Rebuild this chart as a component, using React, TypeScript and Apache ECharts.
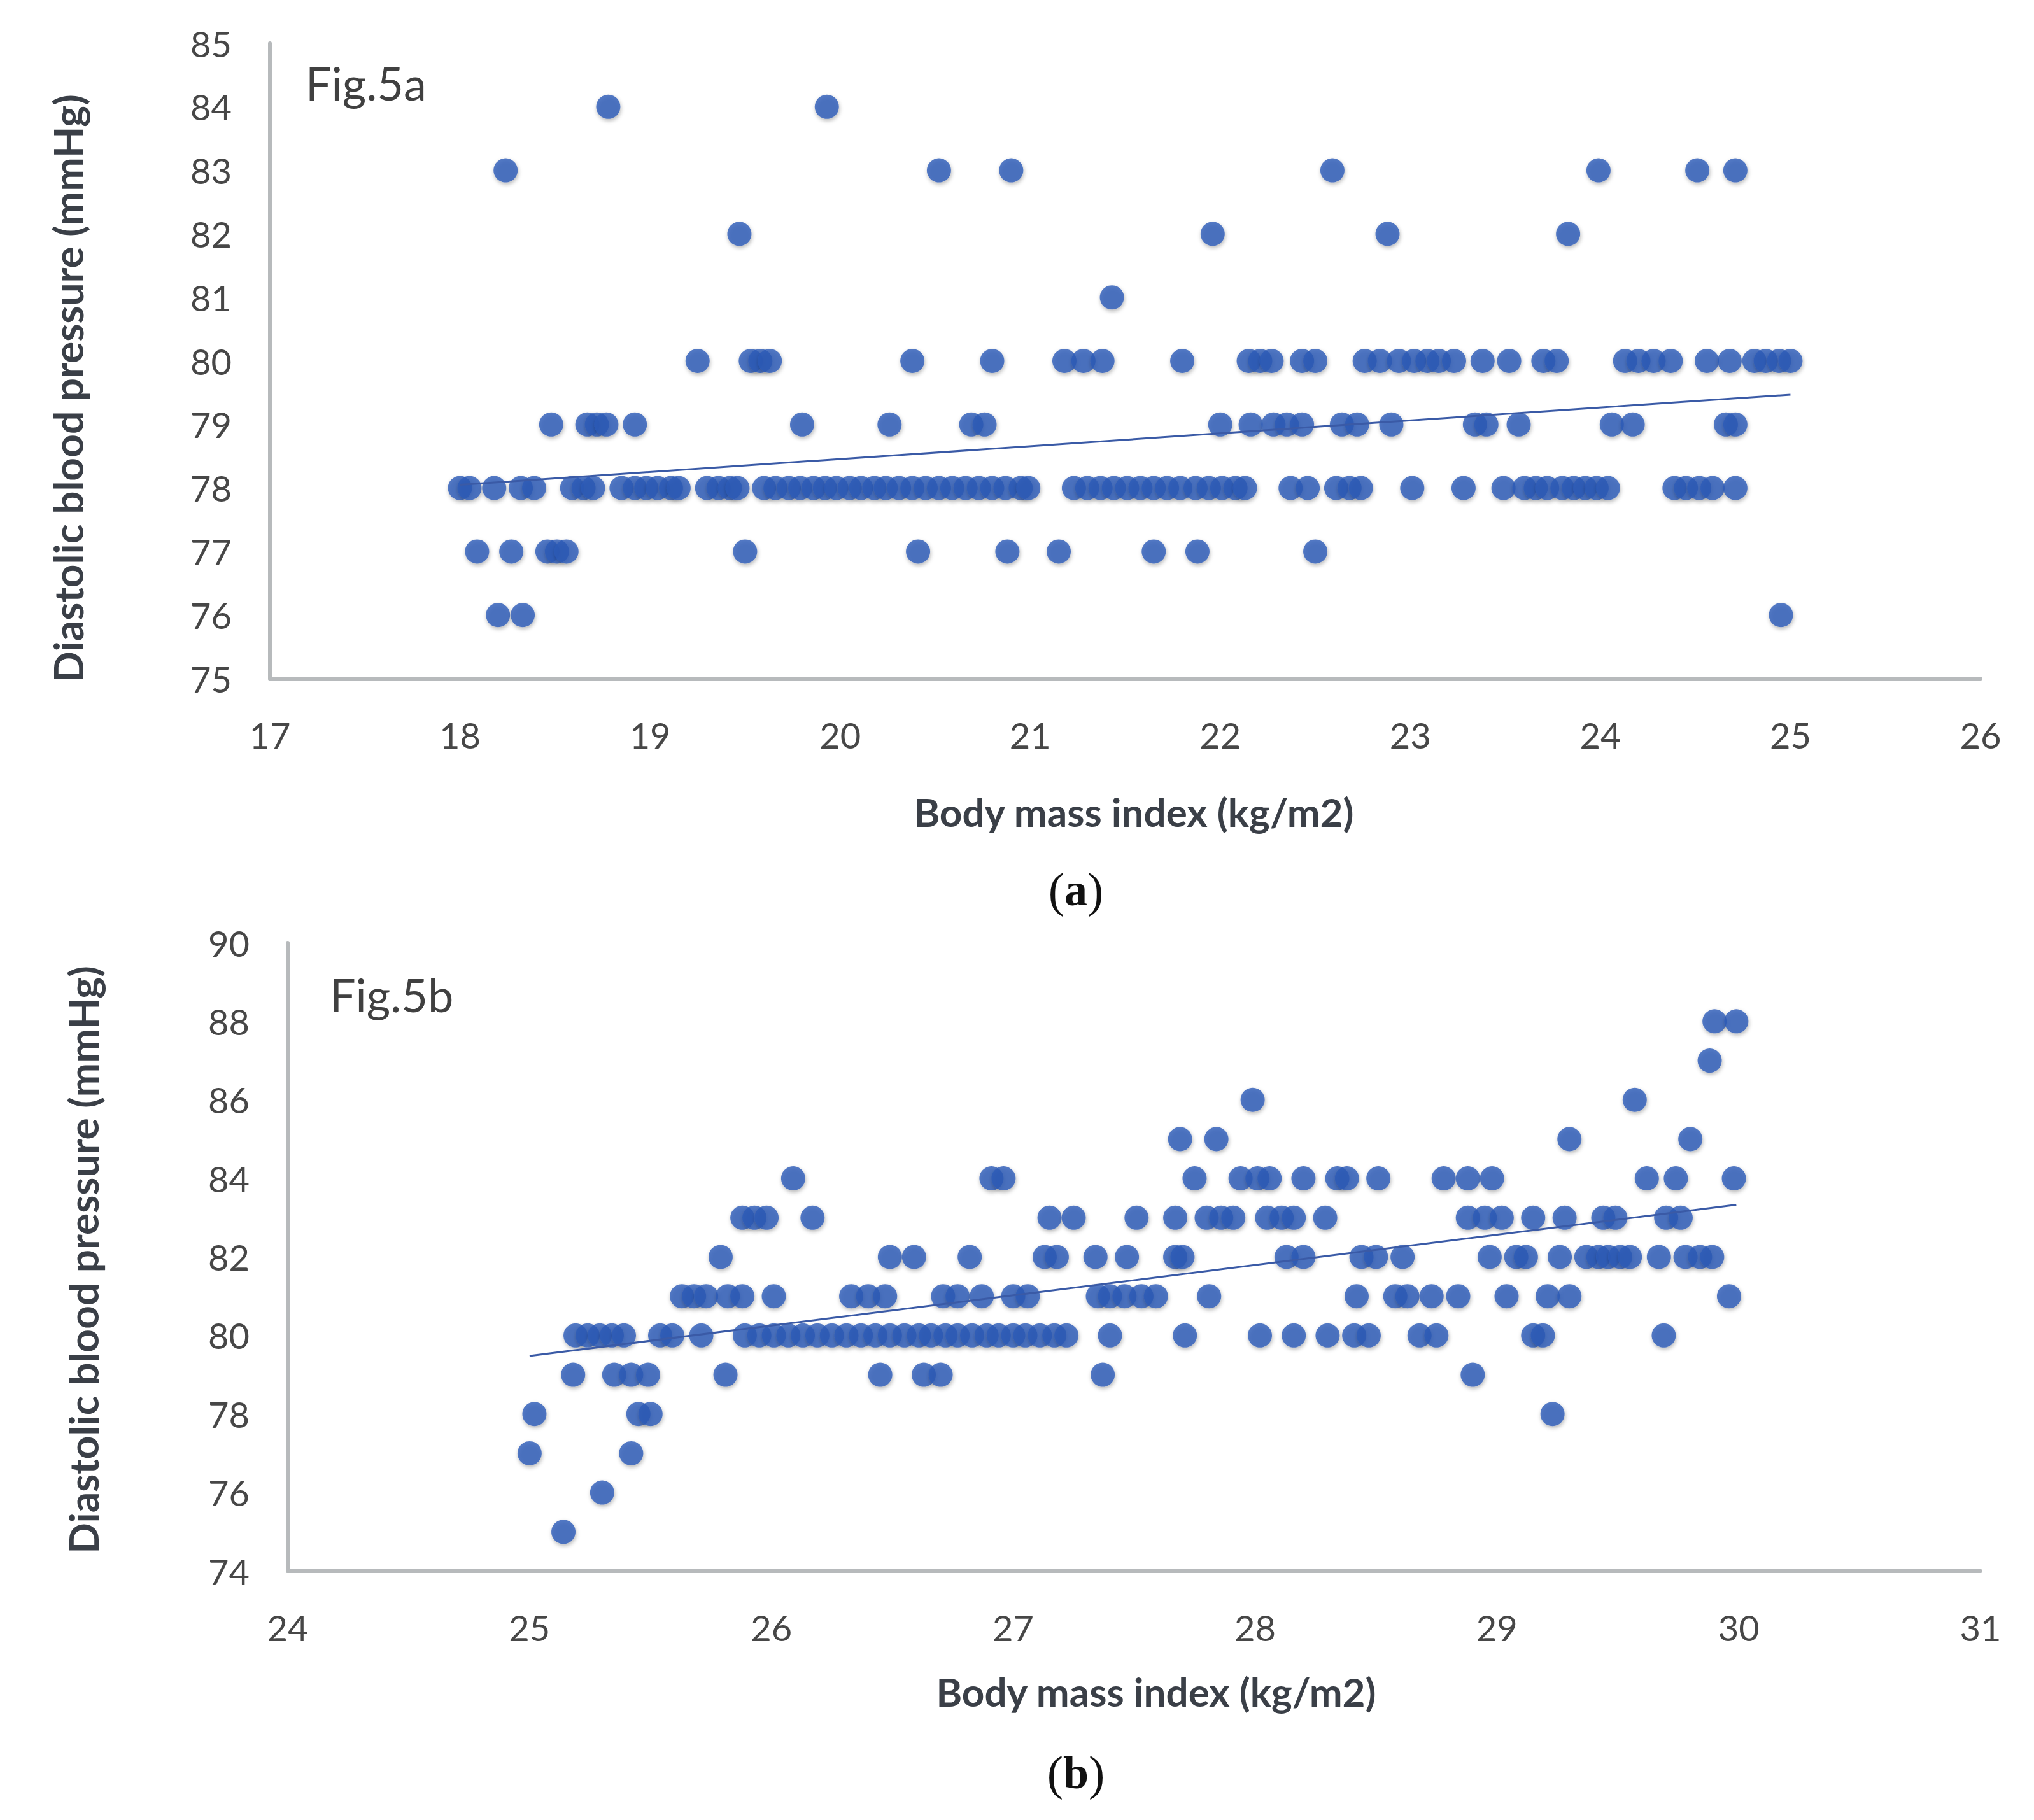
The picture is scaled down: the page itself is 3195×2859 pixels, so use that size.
import React, { useEffect, useRef } from "react";
import * as echarts from "echarts";

// ---------- Fig.5a : BMI 18–25 (x) vs diastolic BP (y), grouped by DBP row ----------
const a84 = [18.78, 19.93];
const a83 = [18.24, 20.52, 20.9, 22.59, 23.99, 24.51, 24.71];
const a82 = [19.47, 21.96, 22.88, 23.83];
const a81 = [21.43];
const a80 = [19.25, 19.53, 19.58, 19.63, 20.38, 20.8, 21.18, 21.28, 21.38, 21.8, 22.15, 22.21, 22.27, 22.43, 22.5, 22.76, 22.84, 22.94, 23.02, 23.09, 23.15, 23.23, 23.38, 23.52, 23.7, 23.77, 24.13, 24.2, 24.28, 24.37, 24.56, 24.68, 24.81, 24.87, 24.94, 25.0];
const a79 = [18.48, 18.67, 18.72, 18.77, 18.92, 19.8, 20.26, 20.69, 20.76, 22.0, 22.16, 22.28, 22.35, 22.43, 22.64, 22.72, 22.9, 23.34, 23.4, 23.57, 24.06, 24.17, 24.66, 24.71];
const a78 = [18.0, 18.05, 18.18, 18.32, 18.39, 18.59, 18.65, 18.7, 18.85, 18.92, 18.98, 19.04, 19.11, 19.15, 19.3, 19.36, 19.42, 19.46, 19.6, 19.66, 19.73, 19.79, 19.86, 19.92, 19.98, 20.05, 20.11, 20.18, 20.24, 20.31, 20.38, 20.45, 20.52, 20.59, 20.66, 20.73, 20.8, 20.87, 20.95, 20.99, 21.23, 21.3, 21.37, 21.44, 21.51, 21.58, 21.65, 21.72, 21.79, 21.87, 21.94, 22.01, 22.08, 22.13, 22.37, 22.46, 22.61, 22.68, 22.74, 23.01, 23.28, 23.49, 23.6, 23.66, 23.72, 23.8, 23.86, 23.92, 23.98, 24.04, 24.39, 24.45, 24.52, 24.59, 24.71];
const a77 = [18.09, 18.27, 18.46, 18.51, 18.56, 19.5, 20.41, 20.88, 21.15, 21.65, 21.88, 22.5];
const a76 = [18.2, 18.33, 24.95];
const trendA = [[18.0, 78.05], [25.0, 79.47]];

// ---------- Fig.5b : BMI 25–30 (x) vs diastolic BP (y) ----------
const b88 = [29.9, 29.99];
const b87 = [29.88];
const b86 = [27.99, 29.57];
const b85 = [27.69, 27.84, 29.3, 29.8];
const b84 = [26.09, 26.91, 26.96, 27.75, 27.94, 28.01, 28.06, 28.2, 28.34, 28.38, 28.51, 28.78, 28.88, 28.98, 29.62, 29.74, 29.98];
const b83 = [25.88, 25.93, 25.98, 26.17, 27.15, 27.25, 27.51, 27.67, 27.8, 27.86, 27.91, 28.05, 28.11, 28.16, 28.29, 28.88, 28.95, 29.02, 29.15, 29.28, 29.44, 29.49, 29.7, 29.76];
const b82 = [25.79, 26.49, 26.59, 26.82, 27.13, 27.18, 27.34, 27.47, 27.67, 27.7, 28.13, 28.2, 28.44, 28.5, 28.61, 28.97, 29.08, 29.12, 29.26, 29.37, 29.42, 29.46, 29.51, 29.55, 29.67, 29.78, 29.84, 29.89];
const b81 = [25.63, 25.68, 25.73, 25.82, 25.88, 26.01, 26.33, 26.4, 26.47, 26.71, 26.77, 26.87, 27.0, 27.06, 27.35, 27.4, 27.46, 27.53, 27.59, 27.81, 28.42, 28.58, 28.63, 28.73, 28.84, 29.04, 29.21, 29.3, 29.96];
const b80 = [25.19, 25.24, 25.29, 25.34, 25.39, 25.54, 25.59, 25.71, 25.89, 25.95, 26.01, 26.07, 26.13, 26.19, 26.25, 26.31, 26.37, 26.43, 26.49, 26.55, 26.61, 26.66, 26.72, 26.77, 26.83, 26.89, 26.94, 27.0, 27.05, 27.11, 27.17, 27.22, 27.4, 27.71, 28.02, 28.16, 28.3, 28.41, 28.47, 28.68, 28.75, 29.15, 29.19, 29.69];
const b79 = [25.18, 25.35, 25.42, 25.49, 25.81, 26.45, 26.63, 26.7, 27.37, 28.9];
const b78 = [25.02, 25.45, 25.5, 29.23];
const b77 = [25.0, 25.42];
const b76 = [25.3];
const b75 = [25.14];
const trendB = [[25.0, 79.48], [29.99, 83.33]];

// ---------- axes ----------
const axisA = { xMin: 17, xMax: 26, xStep: 1, yMin: 75, yMax: 85, yStep: 1 };
const axisB = { xMin: 24, xMax: 31, xStep: 1, yMin: 74, yMax: 90, yStep: 2 };

const xTitle = "Body mass index (kg/m2)";
const yTitle = "Diastolic blood pressure (mmHg)";
const figLabels = ["Fig.5a", "Fig.5b"];
const panelLabels = ["a", "b"];

const rowsA: [number, number[]][] = [[84, a84], [83, a83], [82, a82], [81, a81], [80, a80], [79, a79], [78, a78], [77, a77], [76, a76]];
const rowsB: [number, number[]][] = [[88, b88], [87, b87], [86, b86], [85, b85], [84, b84], [83, b83], [82, b82], [81, b81], [80, b80], [79, b79], [78, b78], [77, b77], [76, b76], [75, b75]];

const toPoints = (rows: [number, number[]][]) => rows.flatMap(([y, xs]) => xs.map((x) => [x, y]));

const DOT = "#2D5BB8";
const TREND = "#3A5AA6";
const AXIS = "#B7BABC";
const LABEL = "#474747";
const TITLE = "#3A3F47";
const FONT = "Lato";

function axisX(gridIndex: number, a: typeof axisA) {
  return {
    gridIndex, type: "value", min: a.xMin, max: a.xMax, interval: a.xStep,
    axisLine: { show: true, onZero: false, lineStyle: { color: AXIS, width: 6 } },
    axisTick: { show: false }, splitLine: { show: false },
    axisLabel: { fontFamily: FONT, fontSize: 56, color: LABEL, margin: 60 },
  };
}
function axisY(gridIndex: number, a: typeof axisA) {
  return {
    gridIndex, type: "value", min: a.yMin, max: a.yMax, interval: a.yStep,
    axisLine: { show: true, onZero: false, lineStyle: { color: AXIS, width: 6 } },
    axisTick: { show: false }, splitLine: { show: false },
    axisLabel: { fontFamily: FONT, fontSize: 56, color: LABEL, margin: 60 },
  };
}

const scatterStyle = {
  color: DOT,
  shadowBlur: 6,
  shadowColor: "rgba(0,0,0,0.35)",
  shadowOffsetX: 1,
  shadowOffsetY: 3,
};

export default function App() {
  const ref = useRef<HTMLDivElement>(null);
  useEffect(() => {
    if (!ref.current) return;
    const chart = echarts.init(ref.current, null, { renderer: "svg" });
    const xTitleStyle = { fill: TITLE, font: `bold 62px ${FONT}`, align: "center", verticalAlign: "middle" };
    const yTitleStyle = { fill: TITLE, font: `bold 64px ${FONT}`, align: "center", verticalAlign: "middle" };
    const panelRich = {
      p: { font: `76px "Liberation Serif"`, fill: "#111" },
      b: { font: `bold 72px "Liberation Serif"`, fill: "#111" },
    };
    chart.setOption({
      animation: false,
      backgroundColor: "#ffffff",
      grid: [
        { left: 424, top: 68, width: 2687, height: 998 },
        { left: 452, top: 1481, width: 2659, height: 987 },
      ],
      xAxis: [axisX(0, axisA), axisX(1, axisB)],
      yAxis: [axisY(0, axisA), axisY(1, axisB)],
      series: [
        { type: "scatter", xAxisIndex: 0, yAxisIndex: 0, symbolSize: 38, data: toPoints(rowsA), itemStyle: scatterStyle, z: 2 },
        { type: "line", xAxisIndex: 0, yAxisIndex: 0, data: trendA, symbol: "none", lineStyle: { color: TREND, width: 3 }, z: 3, silent: true },
        { type: "scatter", xAxisIndex: 1, yAxisIndex: 1, symbolSize: 38, data: toPoints(rowsB), itemStyle: scatterStyle, z: 2 },
        { type: "line", xAxisIndex: 1, yAxisIndex: 1, data: trendB, symbol: "none", lineStyle: { color: TREND, width: 3 }, z: 3, silent: true },
      ],
      graphic: [
        { type: "text", x: 480, y: 130, style: { text: figLabels[0], fill: "#404040", font: `72px ${FONT}`, align: "left", verticalAlign: "middle" } },
        { type: "text", x: 518, y: 1562, style: { text: figLabels[1], fill: "#404040", font: `72px ${FONT}`, align: "left", verticalAlign: "middle" } },
        { type: "text", x: 106, y: 610, rotation: Math.PI / 2, style: { text: yTitle, ...yTitleStyle } },
        { type: "text", x: 130, y: 1979, rotation: Math.PI / 2, style: { text: yTitle, ...yTitleStyle } },
        { type: "text", x: 1781, y: 1275, style: { text: xTitle, ...xTitleStyle } },
        { type: "text", x: 1816, y: 2657, style: { text: xTitle, ...xTitleStyle } },
        { type: "text", x: 1690, y: 1398, style: { text: `{p|(}{b|${panelLabels[0]}}{p|)}`, align: "center", verticalAlign: "middle", rich: panelRich } },
        { type: "text", x: 1690, y: 2785, style: { text: `{p|(}{b|${panelLabels[1]}}{p|)}`, align: "center", verticalAlign: "middle", rich: panelRich } },
      ],
    });
    return () => chart.dispose();
  }, []);
  return <div ref={ref} style={{ position: "absolute", left: 0, top: 0, width: 3195, height: 2859, background: "#fff" }} />;
}
